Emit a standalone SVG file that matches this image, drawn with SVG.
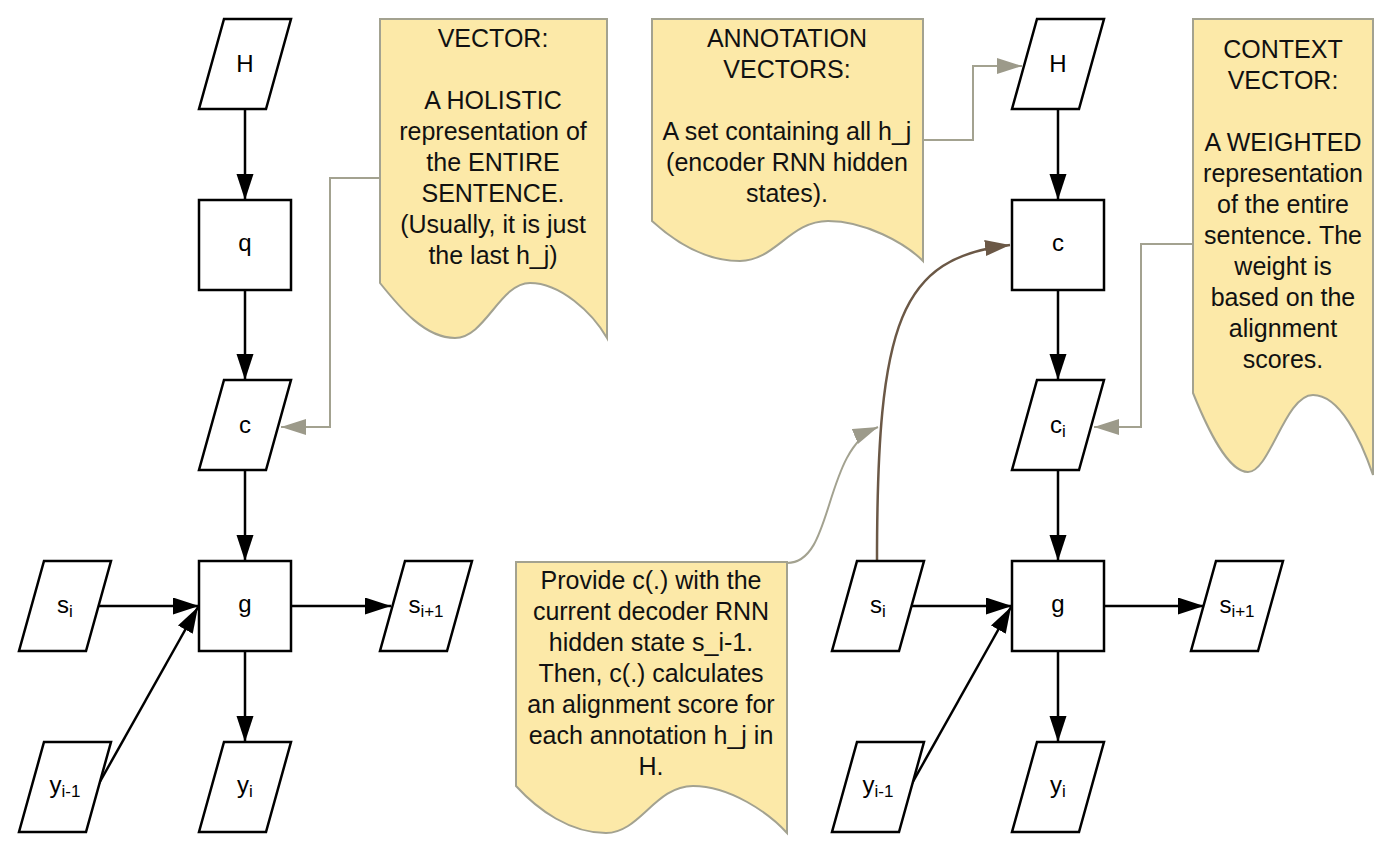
<svg xmlns="http://www.w3.org/2000/svg" width="1400" height="854" viewBox="0 0 1400 854">
<style>
.box{fill:#fff;stroke:#000;stroke-width:2.5}
.note{fill:#fce9a8;stroke:#a3a290;stroke-width:2}
.lbl{font-family:"Liberation Sans",Arial,sans-serif;font-size:24px;fill:#000;text-anchor:middle}
.sub{font-size:17px}
.nt{font-family:"Liberation Sans",Arial,sans-serif;font-size:25px;fill:#111;text-anchor:middle}
.blk{fill:none;stroke:#000;stroke-width:2.5;marker-end:url(#ab)}
.gry{fill:none;stroke:#a3a290;stroke-width:2;marker-end:url(#ag)}
.brn{fill:none;stroke:#6b5846;stroke-width:2.5;marker-end:url(#an)}
</style>
<defs>
<marker id="ab" markerUnits="userSpaceOnUse" markerWidth="27" markerHeight="19" refX="26" refY="8.5" orient="auto"><path d="M0,0 L26,8.5 L0,17 z" fill="#000"/></marker>
<marker id="ag" markerUnits="userSpaceOnUse" markerWidth="26" markerHeight="18" refX="25" refY="8" orient="auto"><path d="M0,0 L25,8 L0,16 z" fill="#9c9a8a"/></marker>
<marker id="an" markerUnits="userSpaceOnUse" markerWidth="26" markerHeight="18" refX="25" refY="8" orient="auto"><path d="M0,0 L25,8 L0,16 z" fill="#6b5846"/></marker>
</defs>
<rect width="1400" height="854" fill="#fff"/>

<g id="connectors">
<line class="blk" x1="245" y1="109" x2="245" y2="200"/>
<line class="blk" x1="245" y1="290" x2="245" y2="380"/>
<line class="blk" x1="245" y1="470" x2="245" y2="561"/>
<line class="blk" x1="99" y1="606" x2="199" y2="606"/>
<line class="blk" x1="97" y1="787" x2="198" y2="607"/>
<line class="blk" x1="291" y1="606" x2="391" y2="606"/>
<line class="blk" x1="245" y1="651" x2="245" y2="742"/>
<line class="blk" x1="1058" y1="109" x2="1058" y2="200"/>
<line class="blk" x1="1058" y1="290" x2="1058" y2="380"/>
<line class="blk" x1="1058" y1="470" x2="1058" y2="561"/>
<line class="blk" x1="912" y1="606" x2="1012" y2="606"/>
<line class="blk" x1="910" y1="787" x2="1011" y2="607"/>
<line class="blk" x1="1104" y1="606" x2="1204" y2="606"/>
<line class="blk" x1="1058" y1="651" x2="1058" y2="742"/>
<polyline class="gry" points="380,178 330,178 330,427 281,427"/>
<polyline class="gry" points="923,140 973,140 973,66 1022,66"/>
<polyline class="gry" points="1193,244 1141,244 1141,427 1094,427"/>
<path class="gry" d="M787,563 C835,563 822,450 878,427"/>
<path class="brn" d="M877,562 C877,320 900,258 1010,245"/>
</g>

<g id="note-vector">
<path class="note" d="M380,19 H607 V338 C592,312 560,283 530,283 C500,283 485,338 455,338 C425,338 400,308 380,283 Z"/>
<text class="nt" x="493" y="47">VECTOR:</text>
<text class="nt" x="493" y="109">A HOLISTIC</text>
<text class="nt" x="493" y="140">representation of</text>
<text class="nt" x="493" y="171">the ENTIRE</text>
<text class="nt" x="493" y="202">SENTENCE.</text>
<text class="nt" x="493" y="233">(Usually, it is just</text>
<text class="nt" x="493" y="264">the last h_j)</text>
</g>

<g id="note-annotation">
<path class="note" d="M652,19 H923 V261 C905,243 865,221 828,221 C790,221 775,261 740,261 C705,261 675,242 652,221 Z"/>
<text class="nt" x="787" y="47">ANNOTATION</text>
<text class="nt" x="787" y="78">VECTORS:</text>
<text class="nt" x="787" y="140">A set containing all h_j</text>
<text class="nt" x="787" y="171">(encoder RNN hidden</text>
<text class="nt" x="787" y="202">states).</text>
</g>

<g id="note-context">
<path class="note" d="M1193,19 H1373 V475 C1361,440 1340,395 1313,395 C1285,395 1270,472 1248,472 C1228,472 1208,430 1193,393 Z"/>
<text class="nt" x="1283" y="58">CONTEXT</text>
<text class="nt" x="1283" y="89">VECTOR:</text>
<text class="nt" x="1283" y="151">A WEIGHTED</text>
<text class="nt" x="1283" y="182">representation</text>
<text class="nt" x="1283" y="213">of the entire</text>
<text class="nt" x="1283" y="244">sentence. The</text>
<text class="nt" x="1283" y="275">weight is</text>
<text class="nt" x="1283" y="306">based on the</text>
<text class="nt" x="1283" y="337">alignment</text>
<text class="nt" x="1283" y="368">scores.</text>
</g>

<g id="note-provide">
<path class="note" d="M516,562 H787 V833 C769,813 730,786 693,786 C655,786 640,833 606,833 C570,833 538,810 516,786 Z"/>
<text class="nt" x="651" y="589">Provide c(.) with the</text>
<text class="nt" x="651" y="620">current decoder RNN</text>
<text class="nt" x="651" y="651">hidden state s_i-1.</text>
<text class="nt" x="651" y="682">Then, c(.) calculates</text>
<text class="nt" x="651" y="713">an alignment score for</text>
<text class="nt" x="651" y="744">each annotation h_j in</text>
<text class="nt" x="651" y="775">H.</text>
</g>

<g id="L-H"><polygon class="box" points="224,19 291,19 266,109 199,109"/><text class="lbl" x="245" y="72">H</text></g>
<g id="L-q"><rect class="box" x="199" y="200" width="92" height="90"/><text class="lbl" x="245" y="251">q</text></g>
<g id="L-c"><polygon class="box" points="224,380 291,380 266,470 199,470"/><text class="lbl" x="245" y="433">c</text></g>
<g id="L-g"><rect class="box" x="199" y="561" width="92" height="90"/><text class="lbl" x="245" y="612">g</text></g>
<g id="L-si"><polygon class="box" points="44,561 111,561 86,651 19,651"/><text class="lbl" x="65" y="613">s<tspan class="sub" dy="4">i</tspan></text></g>
<g id="L-si1"><polygon class="box" points="405,561 472,561 447,651 380,651"/><text class="lbl" x="426" y="613">s<tspan class="sub" dy="4">i+1</tspan></text></g>
<g id="L-yim1"><polygon class="box" points="44,742 111,742 86,832 19,832"/><text class="lbl" x="65" y="793">y<tspan class="sub" dy="4">i-1</tspan></text></g>
<g id="L-yi"><polygon class="box" points="224,742 291,742 266,832 199,832"/><text class="lbl" x="245" y="793">y<tspan class="sub" dy="4">i</tspan></text></g>

<g id="R-H"><polygon class="box" points="1037,19 1104,19 1079,109 1012,109"/><text class="lbl" x="1058" y="72">H</text></g>
<g id="R-c"><rect class="box" x="1012" y="200" width="92" height="90"/><text class="lbl" x="1058" y="251">c</text></g>
<g id="R-ci"><polygon class="box" points="1037,380 1104,380 1079,470 1012,470"/><text class="lbl" x="1058" y="433">c<tspan class="sub" dy="4">i</tspan></text></g>
<g id="R-g"><rect class="box" x="1012" y="561" width="92" height="90"/><text class="lbl" x="1058" y="612">g</text></g>
<g id="R-si"><polygon class="box" points="857,561 924,561 899,651 832,651"/><text class="lbl" x="878" y="613">s<tspan class="sub" dy="4">i</tspan></text></g>
<g id="R-si1"><polygon class="box" points="1216,561 1283,561 1258,651 1191,651"/><text class="lbl" x="1237" y="613">s<tspan class="sub" dy="4">i+1</tspan></text></g>
<g id="R-yim1"><polygon class="box" points="857,742 924,742 899,832 832,832"/><text class="lbl" x="878" y="793">y<tspan class="sub" dy="4">i-1</tspan></text></g>
<g id="R-yi"><polygon class="box" points="1037,742 1104,742 1079,832 1012,832"/><text class="lbl" x="1058" y="793">y<tspan class="sub" dy="4">i</tspan></text></g>
</svg>
